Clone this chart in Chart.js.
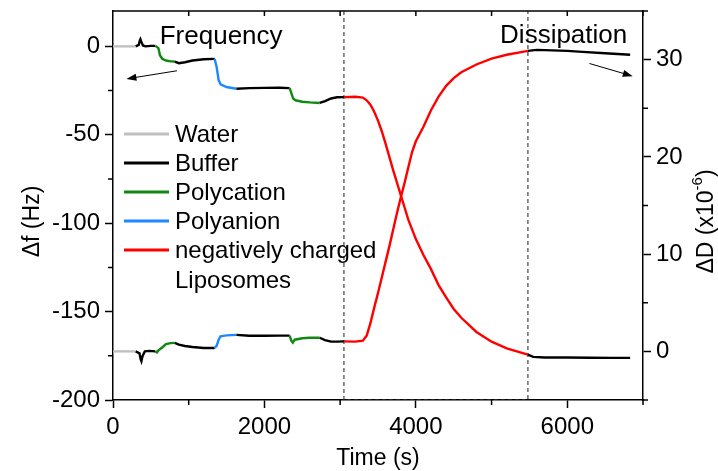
<!DOCTYPE html>
<html>
<head>
<meta charset="utf-8">
<script src="https://cdn.jsdelivr.net/npm/chart.js@4/dist/chart.umd.min.js"></script>
<style>
  html, body { margin: 0; padding: 0; background: #fff; }
</style>
</head>
<body>
<canvas id="chart" width="718" height="471"></canvas>
<script>
// phases of the experiment (start time in s) and what flowed over the sensor
const phaseStart = [0, 300, 560, 815, 1343, 1630, 2333, 2730, 3050, 5480];
const phaseName  = ['Water', 'Buffer', 'Polycation', 'Buffer', 'Polyanion', 'Buffer', 'Polycation', 'Buffer', 'Liposomes', 'Buffer'];

// frequency shift, left axis
const freqTime = [0, 150, 300, 340, 352, 362, 375, 395, 430, 500, 560,
  600, 620, 650, 700, 760, 815,
  870, 950, 1050, 1200, 1343,
  1370, 1395, 1420, 1500, 1630,
  1800, 2000, 2200, 2333,
  2360, 2380, 2410, 2500, 2600, 2730,
  2800, 2880, 2960, 3050,
  3200, 3300, 3350, 3400, 3450, 3500, 3550, 3600, 3650, 3700, 3750, 3800, 3850, 3900, 3950, 4000,
  4100, 4200, 4300, 4400, 4500, 4600, 4800, 5000, 5200, 5480,
  5550, 5700, 6000, 6300, 6600, 6830];
const freqVal = [0, 0, 0, 0.8, 3, 4, 2.5, 0.5, 0, 0.3, 0.3,
  -1, -5, -7, -8, -8.5, -8.6,
  -9.5, -9, -8, -7.3, -7.1,
  -12, -19, -21.5, -23, -24,
  -23.6, -23.5, -23.4, -23.6,
  -27, -29.5, -30.5, -31.3, -31.7, -32,
  -31, -29.5, -28.8, -28.7,
  -28.5, -29, -30.5, -33, -37, -42, -48, -55, -62.5, -70, -77, -84, -91, -98, -103.5, -109,
  -118, -126, -135, -142, -148.5, -153.5, -161.5, -167, -170.8, -174.3,
  -175.6, -176, -176, -176.1, -176.2, -176.2];

// dissipation shift, right axis (x1e-6)
const dissTime = [0, 150, 300, 350, 365, 375, 390, 420, 480, 560,
  580, 600, 650, 700, 760, 815,
  870, 950, 1050, 1200, 1343,
  1370, 1395, 1420, 1500, 1630,
  1800, 2000, 2200, 2333,
  2355, 2375, 2400, 2500, 2600, 2730,
  2800, 2880, 2960, 3050,
  3200, 3300, 3350, 3400, 3450, 3500, 3550, 3600, 3650, 3700, 3750, 3800, 3850, 3900, 3950, 4000,
  4100, 4200, 4300, 4400, 4500, 4600, 4800, 5000, 5200, 5480,
  5600, 5800, 6000, 6200, 6500, 6830];
const dissVal = [0, 0, 0, -0.2, -0.8, -1.0, -0.5, 0, 0.05, 0,
  -0.1, 0.1, 0.4, 0.75, 0.85, 0.87,
  0.7, 0.55, 0.45, 0.35, 0.35,
  0.6, 1.2, 1.55, 1.65, 1.7,
  1.6, 1.6, 1.62, 1.62,
  1.1, 0.9, 1.2, 1.35, 1.4, 1.4,
  1.15, 1.0, 1.0, 1.03,
  1.0, 1.1, 1.6, 2.9, 4.5, 6.0, 7.6, 9.2, 10.8, 12.5, 14.2, 15.8, 17.3, 18.9, 20.5, 21.6,
  23.1, 24.8, 26.2, 27.3, 28.1, 28.7, 29.5, 30.1, 30.5, 30.9,
  31.0, 30.95, 30.9, 30.8, 30.65, 30.5];

// axis ticks
const xTicks = [0, 2000, 4000, 6000];
const xMinor = [1000, 3000, 5000, 7000];
const fTicks = [-200, -150, -100, -50, 0];
const fMinor = [-175, -125, -75, -25];
const dTicks = [0, 10, 20, 30];
const dMinor = [-5, 5, 15, 25, 35];

// dashed box marking the liposome step
const boxStart = 3050;
const boxEnd = 5480;

// legend
const legendLabels = ['Water', 'Buffer', 'Polycation', 'Polyanion', ['negatively charged', 'Liposomes']];
const legendKeys = ['Water', 'Buffer', 'Polycation', 'Polyanion', 'Liposomes'];

const phaseColor = {
  Water: '#c0c0c0',
  Buffer: '#000000',
  Polycation: '#118811',
  Polyanion: '#1e88ff',
  Liposomes: '#ff0000'
};

const FONT = "'Liberation Sans', Arial, sans-serif";

function colorAt(t) {
  let k = 0;
  for (let i = 0; i < phaseStart.length; i++) if (t >= phaseStart[i]) k = i;
  return phaseColor[phaseName[k]];
}

function toPoints(xs, ys) {
  return xs.map((x, i) => ({ x: x, y: ys[i] }));
}

const segColor = { borderColor: ctx => colorAt((ctx.p0.parsed.x + ctx.p1.parsed.x) / 2) };

function drawArrow(c, x1, y1, x2, y2) {
  const a = Math.atan2(y2 - y1, x2 - x1);
  c.beginPath();
  c.moveTo(x1, y1);
  c.lineTo(x2 - 6 * Math.cos(a), y2 - 6 * Math.sin(a));
  c.stroke();
  c.beginPath();
  c.moveTo(x2, y2);
  c.lineTo(x2 - 10 * Math.cos(a) + 3.5 * Math.sin(a), y2 - 10 * Math.sin(a) - 3.5 * Math.cos(a));
  c.lineTo(x2 - 10 * Math.cos(a) - 3.5 * Math.sin(a), y2 - 10 * Math.sin(a) + 3.5 * Math.cos(a));
  c.closePath();
  c.fill();
}

// minor ticks, top frame, legend, labels and arrows
const extras = {
  id: 'extras',
  afterDraw(chart) {
    const c = chart.ctx;
    const a = chart.chartArea;
    const sx = chart.scales.x, sf = chart.scales.y, sd = chart.scales.y2;
    c.save();
    c.strokeStyle = '#000';
    c.fillStyle = '#000';
    c.lineWidth = 1.5;

    // top frame with small inward ticks
    c.beginPath();
    c.moveTo(a.left, a.top);
    c.lineTo(a.right, a.top);
    xTicks.concat(xMinor).forEach(v => {
      if (v <= 0) return;
      const px = sx.getPixelForValue(v);
      c.moveTo(px, a.top);
      c.lineTo(px, a.top + 5);
    });
    c.stroke();

    // minor ticks, outward
    c.beginPath();
    xMinor.forEach(v => {
      const px = sx.getPixelForValue(v);
      c.moveTo(px, a.bottom);
      c.lineTo(px, a.bottom + 5);
    });
    fMinor.forEach(v => {
      const py = sf.getPixelForValue(v);
      c.moveTo(a.left, py);
      c.lineTo(a.left - 5, py);
    });
    dMinor.forEach(v => {
      const py = sd.getPixelForValue(v);
      c.moveTo(a.right, py);
      c.lineTo(a.right + 5, py);
    });
    c.stroke();

    // axis titles
    c.font = '23px ' + FONT;
    c.textAlign = 'center';
    c.textBaseline = 'middle';
    c.fillText('Time (s)', (a.left + a.right) / 2, 459);

    c.save();
    c.translate(33, (a.top + a.bottom) / 2 + 16);
    c.rotate(-Math.PI / 2);
    c.fillText('\u0394f (Hz)', 0, 0);
    c.restore();

    c.save();
    c.translate(707, (a.top + a.bottom) / 2 + 16);
    c.rotate(-Math.PI / 2);
    const main = '\u0394D (x10';
    const sup = '-6';
    c.font = '23px ' + FONT;
    const w1 = c.measureText(main).width;
    const w3 = c.measureText(')').width;
    c.font = '15px ' + FONT;
    const w2 = c.measureText(sup).width;
    const x0 = -(w1 + w2 + w3) / 2;
    c.textAlign = 'left';
    c.font = '23px ' + FONT;
    c.fillText(main, x0, 0);
    c.font = '15px ' + FONT;
    c.fillText(sup, x0 + w1, -9);
    c.font = '23px ' + FONT;
    c.fillText(')', x0 + w1 + w2, 0);
    c.restore();

    // series labels
    c.font = '26px ' + FONT;
    c.textBaseline = 'alphabetic';
    c.textAlign = 'left';
    c.fillText('Frequency', sx.getPixelForValue(617), sf.getPixelForValue(1.4));
    c.textAlign = 'right';
    c.fillText('Dissipation', sx.getPixelForValue(6792), sd.getPixelForValue(31.7));

    // arrows
    c.lineWidth = 1;
    drawArrow(c, sx.getPixelForValue(845), sf.getPixelForValue(-13.8),
                 sx.getPixelForValue(177), sf.getPixelForValue(-18.4));
    drawArrow(c, sx.getPixelForValue(6293), sd.getPixelForValue(29.6),
                 sx.getPixelForValue(6865), sd.getPixelForValue(28.3));

    // legend
    c.font = '24px ' + FONT;
    c.textAlign = 'left';
    c.textBaseline = 'middle';
    let y = 134;
    legendLabels.forEach((lab, i) => {
      c.strokeStyle = phaseColor[legendKeys[i]];
      c.lineWidth = 3;
      c.beginPath();
      c.moveTo(124, y);
      c.lineTo(169, y);
      c.stroke();
      const lines = Array.isArray(lab) ? lab : [lab];
      lines.forEach((t, j) => c.fillText(t, 175, y + 1 + j * 30));
      y += 29;
    });
    c.restore();
  }
};

const tickFont = { size: 24, family: FONT };
const plainLabel = v => String(v);

function fixWidth(w) {
  return s => { s.width = w; s.paddingTop = 0; s.paddingBottom = 0; };
}

new Chart(document.getElementById('chart'), {
  type: 'line',
  data: {
    datasets: [
      {
        data: toPoints(freqTime, freqVal),
        yAxisID: 'y',
        borderWidth: 2.4,
        pointRadius: 0,
        segment: segColor,
        borderColor: '#000'
      },
      {
        data: toPoints(dissTime, dissVal),
        yAxisID: 'y2',
        borderWidth: 2.4,
        pointRadius: 0,
        segment: segColor,
        borderColor: '#000'
      },
      {
        data: [{ x: boxStart, y: 20 }, { x: boxStart, y: -200 }, { x: boxEnd, y: -200 }, { x: boxEnd, y: 20 }],
        yAxisID: 'y',
        borderColor: '#444',
        borderWidth: 1.2,
        borderDash: [4, 3],
        pointRadius: 0
      }
    ]
  },
  options: {
    responsive: false,
    animation: false,
    devicePixelRatio: 1,
    layout: { padding: { top: 11, left: 0, right: 0, bottom: 0 } },
    plugins: { legend: { display: false }, tooltip: { enabled: false } },
    scales: {
      x: {
        type: 'linear',
        min: 0,
        max: 7000,
        afterBuildTicks: s => { s.ticks = xTicks.map(v => ({ value: v })); },
        afterFit: s => { s.height = 71; s.paddingLeft = 0; s.paddingRight = 0; },
        ticks: { font: tickFont, color: '#000', padding: 5, maxRotation: 0, callback: plainLabel },
        grid: { drawOnChartArea: false, tickLength: 8, tickColor: '#000', tickWidth: 1.5 },
        border: { color: '#000', width: 1.5 }
      },
      y: {
        position: 'left',
        min: -200,
        max: 20,
        afterBuildTicks: s => { s.ticks = fTicks.map(v => ({ value: v })); },
        afterFit: fixWidth(113),
        ticks: { font: tickFont, color: '#000', padding: 5, callback: plainLabel },
        grid: { drawOnChartArea: false, tickLength: 8, tickColor: '#000', tickWidth: 1.5 },
        border: { color: '#000', width: 1.5 }
      },
      y2: {
        position: 'right',
        min: -5,
        max: 35,
        afterBuildTicks: s => { s.ticks = dTicks.map(v => ({ value: v })); },
        afterFit: fixWidth(75),
        ticks: { font: tickFont, color: '#000', padding: 5, callback: plainLabel },
        grid: { drawOnChartArea: false, tickLength: 8, tickColor: '#000', tickWidth: 1.5 },
        border: { color: '#000', width: 1.5 }
      }
    }
  },
  plugins: [extras]
});
</script>
</body>
</html>
